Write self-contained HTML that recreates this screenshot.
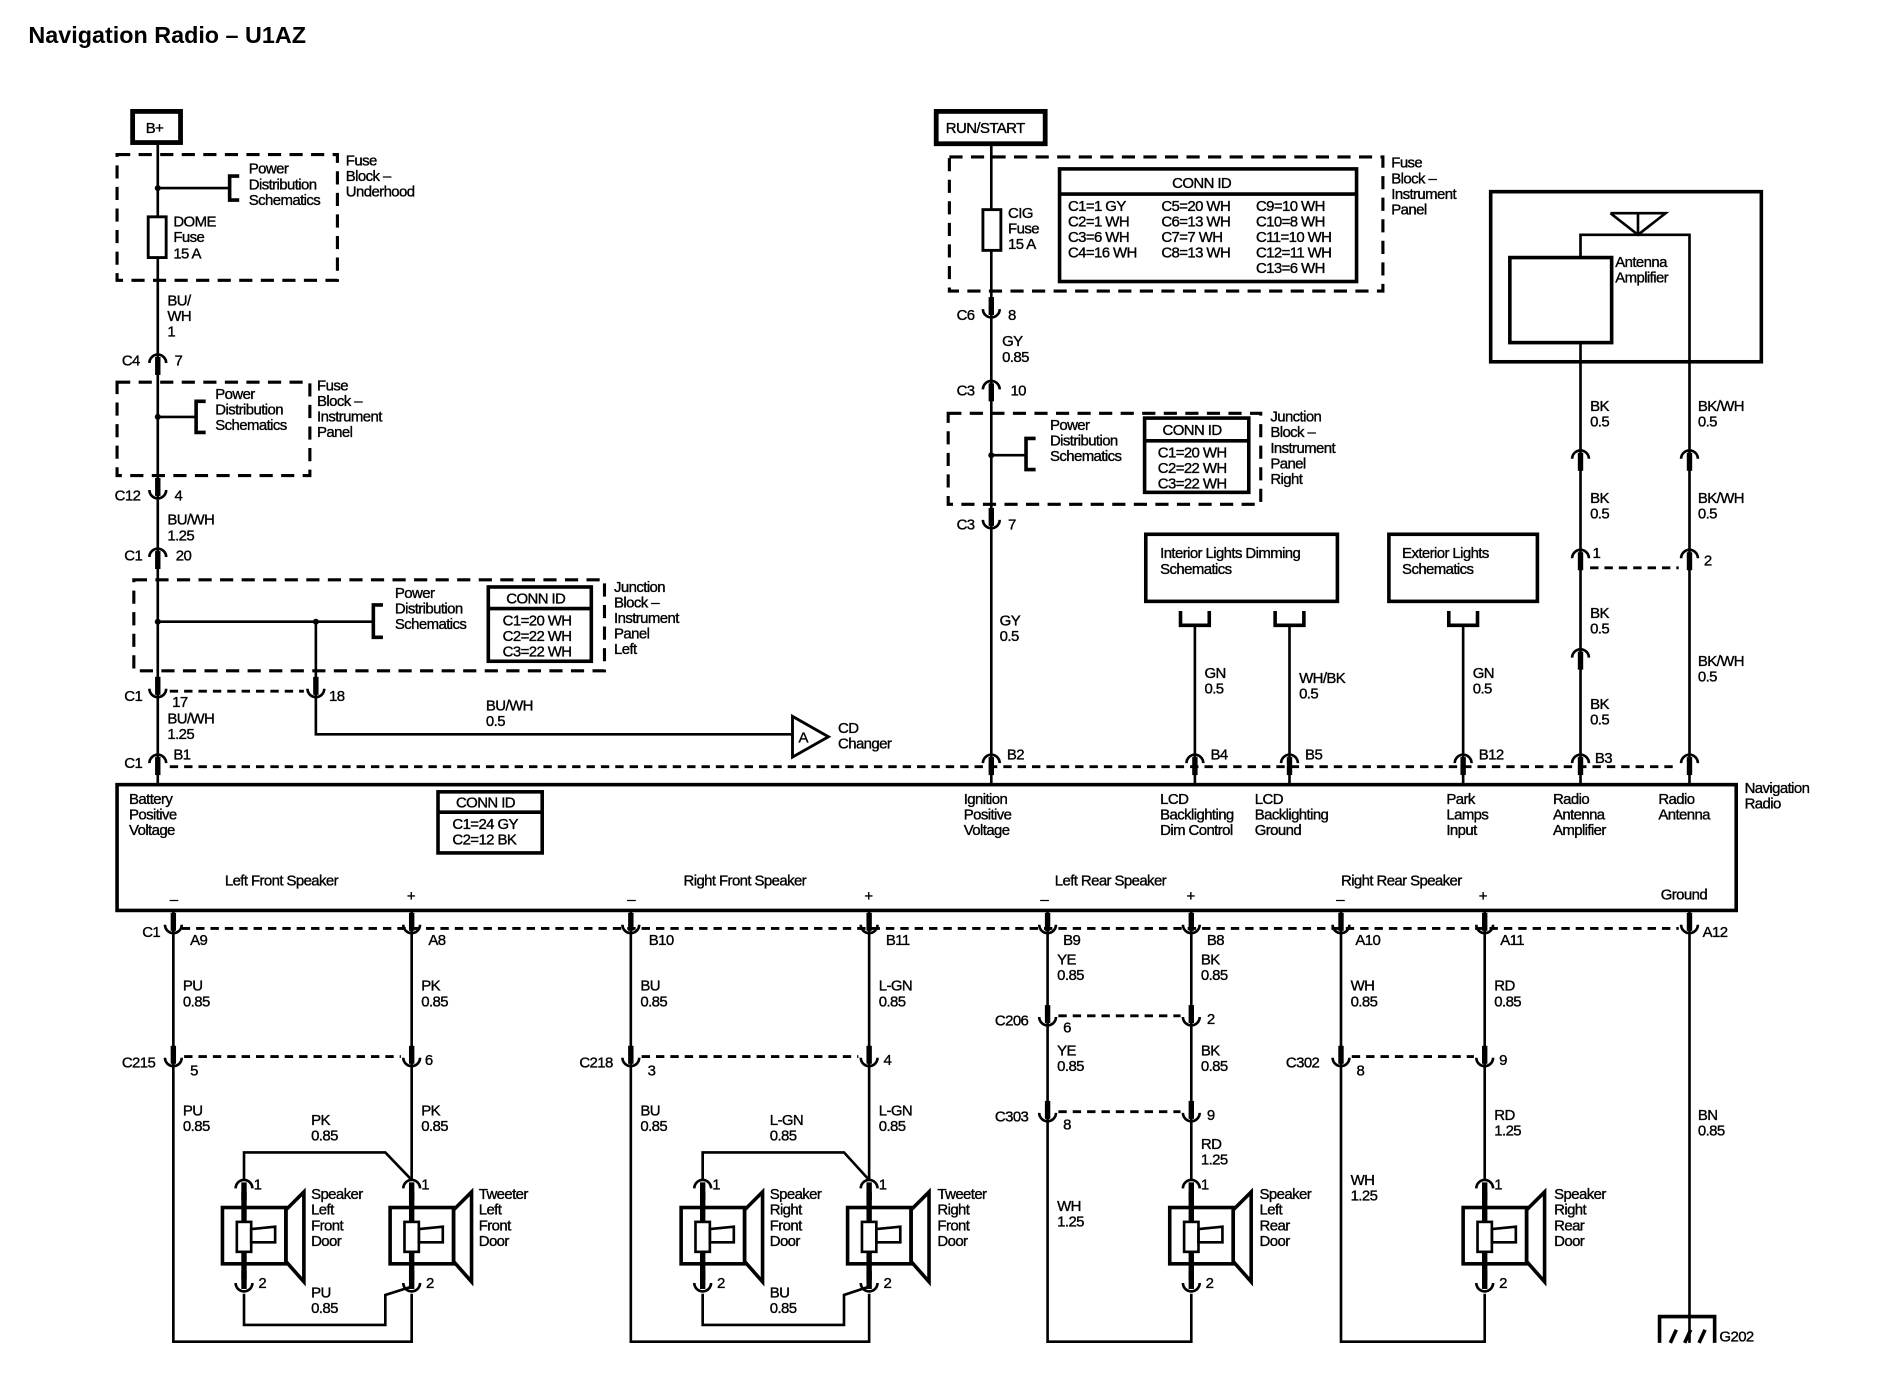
<!DOCTYPE html>
<html><head><meta charset="utf-8"><style>
html,body{margin:0;padding:0;background:#fff;}
svg{display:block;}
text{font-family:"Liberation Sans",Arial,sans-serif;font-size:12.5px;letter-spacing:-0.5px;fill:#000;stroke:#000;stroke-width:0.3;}
.t{font-size:19.5px;font-weight:bold;letter-spacing:0;stroke-width:0;}
.w{stroke:#000;stroke-width:2.2;fill:none;}
.b{stroke:#000;stroke-width:3;fill:none;}
.d{stroke:#000;stroke-width:2.6;fill:none;stroke-dasharray:11 7;}
.dc{stroke:#000;stroke-width:2.4;fill:none;stroke-dasharray:7 5;}
</style></head><body>
<svg width="1882" height="1392" viewBox="-1.75 0 1571.5 1162" preserveAspectRatio="none" xmlns="http://www.w3.org/2000/svg">
<defs>
<g id="cu"><path d="M-7,-3 A7,7 0 0 0 7,-3" class="w" stroke-width="2.6"/><line x1="0" y1="-13" x2="0" y2="2" stroke="#000" stroke-width="4.5"/></g>
<g id="ar"><path d="M-7,3 A7,7 0 0 1 7,3" class="w" stroke-width="2.6"/><line x1="0" y1="-2" x2="0" y2="13" stroke="#000" stroke-width="4.5"/></g>
<g id="spk">
<use href="#ar" x="0" y="989"/>
<rect x="-18" y="1008" width="53" height="47" class="b"/>
<polygon points="35,1010 50,995 50,1070 35,1053" class="b"/>
<line x1="0" y1="995" x2="0" y2="1068" stroke="#000" stroke-width="4.5"/>
<rect x="-6" y="1020" width="12" height="25" fill="#fff" stroke="#000" stroke-width="2.2"/>
<polygon points="6,1026 26,1024 26,1037 6,1037" class="w"/>
<use href="#cu" x="0" y="1074"/>
</g>
</defs>
<rect x="-2" y="0" width="1575" height="1162" fill="#fff"/>
<text x="22" y="36" class="t">Navigation Radio – U1AZ</text>

<!-- B+ side -->
<rect x="109" y="93" width="40" height="26" fill="none" stroke="#000" stroke-width="4"/>
<text x="120" y="111">B+</text>
<rect x="96" y="129" width="184" height="105" class="d"/>
<line x1="130" y1="119" x2="130" y2="655" class="w"/>
<line x1="130" y1="157" x2="190" y2="157" class="w"/><circle cx="130" cy="157" r="2.5"/>
<path d="M198,147 H190 V167 H198" class="b"/>
<text x="206" y="145">Power</text><text x="206" y="158">Distribution</text><text x="206" y="171">Schematics</text>
<text x="287" y="138">Fuse</text><text x="287" y="151">Block –</text><text x="287" y="164">Underhood</text>
<rect x="122" y="181" width="15" height="34" fill="#fff" stroke="#000" stroke-width="2.4"/>
<text x="143" y="189">DOME</text><text x="143" y="202">Fuse</text><text x="143" y="216">15 A</text>
<text x="138" y="255">BU/</text><text x="138" y="268">WH</text><text x="138" y="281">1</text>
<use href="#ar" x="130" y="300"/><text x="100" y="305">C4</text><text x="144" y="305">7</text>
<rect x="96" y="319" width="161" height="78" class="d"/>
<line x1="130" y1="348" x2="162" y2="348" class="w"/><circle cx="130" cy="348" r="2.5"/>
<path d="M170,335 H162 V361 H170" class="b"/>
<text x="178" y="333">Power</text><text x="178" y="346">Distribution</text><text x="178" y="359">Schematics</text>
<text x="263" y="326">Fuse</text><text x="263" y="339">Block –</text><text x="263" y="352">Instrument</text><text x="263" y="365">Panel</text>
<use href="#cu" x="130" y="412"/><text x="94" y="418">C12</text><text x="144" y="418">4</text>
<text x="138" y="438">BU/WH</text><text x="138" y="451">1.25</text>
<use href="#ar" x="130" y="462"/><text x="102" y="468">C1</text><text x="145" y="468">20</text>
<rect x="110" y="484" width="393" height="76" class="d"/>
<line x1="130" y1="519" x2="310" y2="519" class="w"/><circle cx="130" cy="519" r="2.5"/><circle cx="262" cy="519" r="2.5"/>
<path d="M318,505 H310 V532 H318" class="b"/>
<text x="328" y="499">Power</text><text x="328" y="512">Distribution</text><text x="328" y="525">Schematics</text>
<rect x="406" y="490" width="86" height="62" class="b"/><line x1="406" y1="508" x2="492" y2="508" class="b"/>
<text x="421" y="504">CONN ID</text><text x="418" y="522">C1=20 WH</text><text x="418" y="535">C2=22 WH</text><text x="418" y="548">C3=22 WH</text>
<text x="511" y="494">Junction</text><text x="511" y="507">Block –</text><text x="511" y="520">Instrument</text><text x="511" y="533">Panel</text><text x="511" y="546">Left</text>
<polyline points="262,519 262,613 660,613" class="w"/>
<use href="#cu" x="130" y="578"/><use href="#cu" x="262" y="578"/>
<line x1="140" y1="577" x2="252" y2="577" class="dc"/>
<text x="102" y="585">C1</text><text x="142" y="590">17</text><text x="273" y="585">18</text>
<text x="138" y="604">BU/WH</text><text x="138" y="617">1.25</text>
<text x="404" y="593">BU/WH</text><text x="404" y="606">0.5</text>
<polygon points="660,598 660,632 690,615" fill="#fff" stroke="#000" stroke-width="2.4"/>
<text x="665" y="620">A</text><text x="698" y="612">CD</text><text x="698" y="625">Changer</text>

<!-- RUN/START side -->
<rect x="780" y="93" width="91" height="27" fill="none" stroke="#000" stroke-width="4"/>
<text x="788" y="111">RUN/START</text>
<rect x="791" y="131" width="362" height="112" class="d"/>
<line x1="826" y1="120" x2="826" y2="655" class="w"/>
<rect x="819" y="175" width="15" height="34" fill="#fff" stroke="#000" stroke-width="2.4"/>
<text x="840" y="182">CIG</text><text x="840" y="195">Fuse</text><text x="840" y="208">15 A</text>
<rect x="883" y="141" width="248" height="94" class="b"/><line x1="883" y1="162" x2="1131" y2="162" class="b"/>
<text x="977" y="157">CONN ID</text>
<text x="890" y="176">C1=1 GY</text><text x="890" y="189">C2=1 WH</text><text x="890" y="202">C3=6 WH</text><text x="890" y="215">C4=16 WH</text>
<text x="968" y="176">C5=20 WH</text><text x="968" y="189">C6=13 WH</text><text x="968" y="202">C7=7 WH</text><text x="968" y="215">C8=13 WH</text>
<text x="1047" y="176">C9=10 WH</text><text x="1047" y="189">C10=8 WH</text><text x="1047" y="202">C11=10 WH</text><text x="1047" y="215">C12=11 WH</text><text x="1047" y="228">C13=6 WH</text>
<text x="1160" y="140">Fuse</text><text x="1160" y="153">Block –</text><text x="1160" y="166">Instrument</text><text x="1160" y="179">Panel</text>
<use href="#cu" x="826" y="261"/><text x="797" y="267">C6</text><text x="840" y="267">8</text>
<text x="835" y="289">GY</text><text x="835" y="302">0.85</text>
<use href="#ar" x="826" y="322"/><text x="797" y="330">C3</text><text x="842" y="330">10</text>
<rect x="790" y="345" width="261" height="76" class="d"/>
<line x1="826" y1="380" x2="855" y2="380" class="w"/><circle cx="826" cy="380" r="2.5"/>
<path d="M863,366 H855 V392 H863" class="b"/>
<text x="875" y="359">Power</text><text x="875" y="372">Distribution</text><text x="875" y="385">Schematics</text>
<rect x="954" y="349" width="87" height="62" class="b"/><line x1="954" y1="368" x2="1041" y2="368" class="b"/>
<text x="969" y="363">CONN ID</text><text x="965" y="382">C1=20 WH</text><text x="965" y="395">C2=22 WH</text><text x="965" y="408">C3=22 WH</text>
<text x="1059" y="352">Junction</text><text x="1059" y="365">Block –</text><text x="1059" y="378">Instrument</text><text x="1059" y="391">Panel</text><text x="1059" y="404">Right</text>
<use href="#cu" x="826" y="437"/><text x="797" y="442">C3</text><text x="840" y="442">7</text>
<text x="833" y="522">GY</text><text x="833" y="535">0.5</text>

<rect x="955" y="446" width="160" height="56" class="b"/>
<text x="967" y="466">Interior Lights Dimming</text><text x="967" y="479">Schematics</text>
<rect x="1158" y="446" width="124" height="56" class="b"/>
<text x="1169" y="466">Exterior Lights</text><text x="1169" y="479">Schematics</text>
<path d="M984,510 V522 H1008 V510" class="b"/><path d="M1063,510 V522 H1087 V510" class="b"/><path d="M1208,510 V522 H1232 V510" class="b"/>
<line x1="996" y1="522" x2="996" y2="655" class="w"/><line x1="1075" y1="522" x2="1075" y2="655" class="w"/><line x1="1220" y1="522" x2="1220" y2="655" class="w"/>
<text x="1004" y="566">GN</text><text x="1004" y="579">0.5</text>
<text x="1083" y="570">WH/BK</text><text x="1083" y="583">0.5</text>
<text x="1228" y="566">GN</text><text x="1228" y="579">0.5</text>

<!-- Antenna -->
<rect x="1243" y="160" width="226" height="142" class="b"/>
<rect x="1259" y="215" width="85" height="71" class="b"/>
<polyline points="1318,215 1318,196 1409,196 1409,655" class="w"/>
<line x1="1318" y1="286" x2="1318" y2="655" class="w"/>
<polyline points="1343,178 1389,178 1366,196 1343,178" class="w"/>
<line x1="1366" y1="178" x2="1366" y2="196" class="w"/>
<text x="1347" y="223">Antenna</text><text x="1347" y="236">Amplifier</text>
<text x="1326" y="343">BK</text><text x="1326" y="356">0.5</text>
<text x="1416" y="343">BK/WH</text><text x="1416" y="356">0.5</text>
<use href="#ar" x="1318" y="380"/><use href="#ar" x="1409" y="380"/>
<text x="1326" y="420">BK</text><text x="1326" y="433">0.5</text>
<text x="1416" y="420">BK/WH</text><text x="1416" y="433">0.5</text>
<use href="#ar" x="1318" y="463"/><use href="#ar" x="1409" y="463"/>
<line x1="1326" y1="474" x2="1400" y2="474" class="dc"/>
<text x="1328" y="466">1</text><text x="1421" y="472">2</text>
<text x="1326" y="516">BK</text><text x="1326" y="529">0.5</text>
<use href="#ar" x="1318" y="546"/>
<text x="1326" y="592">BK</text><text x="1326" y="605">0.5</text>
<text x="1416" y="556">BK/WH</text><text x="1416" y="569">0.5</text>

<!-- top connector row -->
<line x1="140" y1="640" x2="1400" y2="640" class="dc"/>
<use href="#ar" x="130" y="634"/><use href="#ar" x="826" y="634"/><use href="#ar" x="996" y="634"/><use href="#ar" x="1075" y="634"/><use href="#ar" x="1220" y="634"/><use href="#ar" x="1318" y="634"/><use href="#ar" x="1409" y="634"/>
<text x="102" y="641">C1</text><text x="143" y="634">B1</text><text x="839" y="634">B2</text><text x="1009" y="634">B4</text><text x="1088" y="634">B5</text><text x="1233" y="634">B12</text><text x="1330" y="637">B3</text>

<!-- main box -->
<rect x="96" y="655" width="1352" height="105" fill="#fff" stroke="#000" stroke-width="3"/>
<text x="106" y="671">Battery</text><text x="106" y="684">Positive</text><text x="106" y="697">Voltage</text>
<rect x="364" y="661" width="87" height="51" class="b"/><line x1="364" y1="678" x2="451" y2="678" class="b"/>
<text x="379" y="674">CONN ID</text><text x="376" y="692">C1=24 GY</text><text x="376" y="705">C2=12 BK</text>
<text x="803" y="671">Ignition</text><text x="803" y="684">Positive</text><text x="803" y="697">Voltage</text>
<text x="967" y="671">LCD</text><text x="967" y="684">Backlighting</text><text x="967" y="697">Dim Control</text>
<text x="1046" y="671">LCD</text><text x="1046" y="684">Backlighting</text><text x="1046" y="697">Ground</text>
<text x="1206" y="671">Park</text><text x="1206" y="684">Lamps</text><text x="1206" y="697">Input</text>
<text x="1295" y="671">Radio</text><text x="1295" y="684">Antenna</text><text x="1295" y="697">Amplifier</text>
<text x="1383" y="671">Radio</text><text x="1383" y="684">Antenna</text>
<text x="1455" y="662">Navigation</text><text x="1455" y="675">Radio</text>
<text x="186" y="739">Left Front Speaker</text><text x="569" y="739">Right Front Speaker</text><text x="879" y="739">Left Rear Speaker</text><text x="1118" y="739">Right Rear Speaker</text><text x="1385" y="751">Ground</text>
<text x="140" y="755">–</text><text x="338" y="752">+</text><text x="522" y="755">–</text><text x="720" y="752">+</text><text x="867" y="755">–</text><text x="989" y="752">+</text><text x="1114" y="755">–</text><text x="1233" y="752">+</text>

<!-- bottom wires -->
<line x1="150" y1="775" x2="1400" y2="775" class="dc"/>
<g class="w">
<polyline points="143,760 143,1120 342,1120 342,1080"/>
<line x1="342" y1="760" x2="342" y2="985"/>
<polyline points="525,760 525,1120 724,1120 724,1080"/>
<line x1="724" y1="760" x2="724" y2="985"/>
<polyline points="873,760 873,1120 993,1120 993,1080"/>
<line x1="993" y1="760" x2="993" y2="985"/>
<polyline points="1118,760 1118,1120 1238,1120 1238,1080"/>
<line x1="1238" y1="760" x2="1238" y2="985"/>
<line x1="1409" y1="760" x2="1409" y2="1121"/>
<polyline points="202,985 202,962 320,962 342,985"/>
<polyline points="202,1080 202,1106 320,1106 320,1081 342,1074"/>
<polyline points="585,985 585,962 703,962 724,985"/>
<polyline points="585,1080 585,1106 703,1106 703,1081 724,1074"/>
</g>
<g>
<use href="#cu" x="143" y="775"/><use href="#cu" x="342" y="775"/><use href="#cu" x="525" y="775"/><use href="#cu" x="724" y="775"/><use href="#cu" x="873" y="775"/><use href="#cu" x="993" y="775"/><use href="#cu" x="1118" y="775"/><use href="#cu" x="1238" y="775"/><use href="#cu" x="1409" y="775"/>
</g>
<text x="117" y="782">C1</text><text x="157" y="789">A9</text><text x="356" y="789">A8</text><text x="540" y="789">B10</text><text x="738" y="789">B11</text><text x="886" y="789">B9</text><text x="1006" y="789">B8</text><text x="1130" y="789">A10</text><text x="1251" y="789">A11</text><text x="1420" y="782">A12</text>
<text x="151" y="827">PU</text><text x="151" y="840">0.85</text>
<text x="350" y="827">PK</text><text x="350" y="840">0.85</text>
<text x="533" y="827">BU</text><text x="533" y="840">0.85</text>
<text x="732" y="827">L-GN</text><text x="732" y="840">0.85</text>
<text x="881" y="805">YE</text><text x="881" y="818">0.85</text>
<text x="1001" y="805">BK</text><text x="1001" y="818">0.85</text>
<text x="1126" y="827">WH</text><text x="1126" y="840">0.85</text>
<text x="1246" y="827">RD</text><text x="1246" y="840">0.85</text>
<!-- inline connectors -->
<use href="#cu" x="143" y="886"/><use href="#cu" x="342" y="886"/><line x1="152" y1="882" x2="333" y2="882" class="dc"/>
<text x="100" y="891">C215</text><text x="157" y="898">5</text><text x="353" y="889">6</text>
<use href="#cu" x="525" y="886"/><use href="#cu" x="724" y="886"/><line x1="534" y1="882" x2="715" y2="882" class="dc"/>
<text x="482" y="891">C218</text><text x="539" y="898">3</text><text x="736" y="889">4</text>
<use href="#cu" x="1118" y="886"/><use href="#cu" x="1238" y="886"/><line x1="1127" y1="882" x2="1229" y2="882" class="dc"/>
<text x="1072" y="891">C302</text><text x="1131" y="898">8</text><text x="1250" y="889">9</text>
<use href="#cu" x="873" y="852"/><use href="#cu" x="993" y="852"/><line x1="882" y1="848" x2="984" y2="848" class="dc"/>
<text x="829" y="856">C206</text><text x="886" y="862">6</text><text x="1006" y="855">2</text>
<use href="#cu" x="873" y="932"/><use href="#cu" x="993" y="932"/><line x1="882" y1="928" x2="984" y2="928" class="dc"/>
<text x="829" y="936">C303</text><text x="886" y="943">8</text><text x="1006" y="935">9</text>
<text x="881" y="881">YE</text><text x="881" y="894">0.85</text>
<text x="1001" y="881">BK</text><text x="1001" y="894">0.85</text>
<text x="151" y="931">PU</text><text x="151" y="944">0.85</text>
<text x="350" y="931">PK</text><text x="350" y="944">0.85</text>
<text x="533" y="931">BU</text><text x="533" y="944">0.85</text>
<text x="732" y="931">L-GN</text><text x="732" y="944">0.85</text>
<text x="258" y="939">PK</text><text x="258" y="952">0.85</text>
<text x="641" y="939">L-GN</text><text x="641" y="952">0.85</text>
<text x="258" y="1083">PU</text><text x="258" y="1096">0.85</text>
<text x="641" y="1083">BU</text><text x="641" y="1096">0.85</text>
<text x="1001" y="959">RD</text><text x="1001" y="972">1.25</text>
<text x="881" y="1011">WH</text><text x="881" y="1024">1.25</text>
<text x="1126" y="989">WH</text><text x="1126" y="1002">1.25</text>
<text x="1246" y="935">RD</text><text x="1246" y="948">1.25</text>
<text x="1416" y="935">BN</text><text x="1416" y="948">0.85</text>
<!-- speakers -->
<use href="#spk" x="202" y="0"/><use href="#spk" x="342" y="0"/><use href="#spk" x="585" y="0"/><use href="#spk" x="724" y="0"/><use href="#spk" x="993" y="0"/><use href="#spk" x="1238" y="0"/>
<g>
<text x="210" y="993">1</text><text x="350" y="993">1</text><text x="593" y="993">1</text><text x="732" y="993">1</text><text x="1001" y="993">1</text><text x="1246" y="993">1</text>
<text x="214" y="1075">2</text><text x="354" y="1075">2</text><text x="597" y="1075">2</text><text x="736" y="1075">2</text><text x="1005" y="1075">2</text><text x="1250" y="1075">2</text>
</g>
<text x="258" y="1001">Speaker</text><text x="258" y="1014">Left</text><text x="258" y="1027">Front</text><text x="258" y="1040">Door</text>
<text x="398" y="1001">Tweeter</text><text x="398" y="1014">Left</text><text x="398" y="1027">Front</text><text x="398" y="1040">Door</text>
<text x="641" y="1001">Speaker</text><text x="641" y="1014">Right</text><text x="641" y="1027">Front</text><text x="641" y="1040">Door</text>
<text x="781" y="1001">Tweeter</text><text x="781" y="1014">Right</text><text x="781" y="1027">Front</text><text x="781" y="1040">Door</text>
<text x="1050" y="1001">Speaker</text><text x="1050" y="1014">Left</text><text x="1050" y="1027">Rear</text><text x="1050" y="1040">Door</text>
<text x="1296" y="1001">Speaker</text><text x="1296" y="1014">Right</text><text x="1296" y="1027">Rear</text><text x="1296" y="1040">Door</text>
<!-- ground -->
<path d="M1384,1121 V1099 H1430 V1121" class="b"/>
<line x1="1393" y1="1121" x2="1398" y2="1110" class="b"/><line x1="1405" y1="1121" x2="1410" y2="1110" class="b"/><line x1="1417" y1="1121" x2="1422" y2="1110" class="b"/>
<text x="1434" y="1120">G202</text>
</svg>
</body></html>
